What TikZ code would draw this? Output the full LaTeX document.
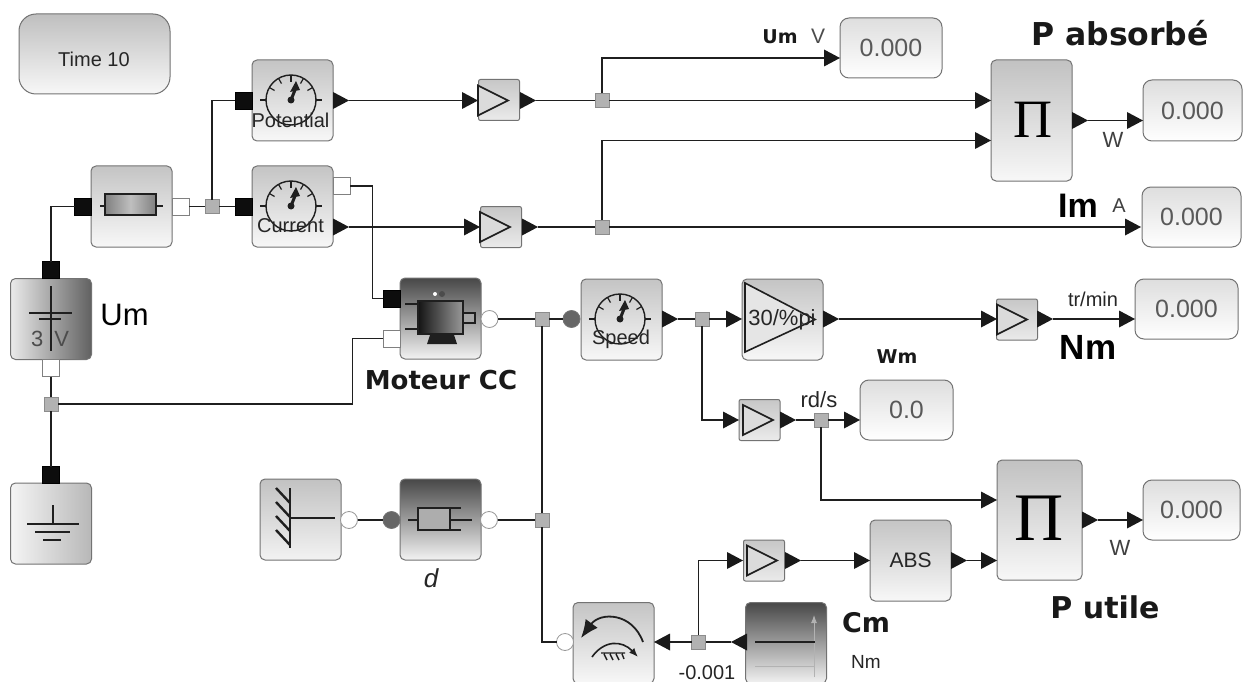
\documentclass[tikz,border=0pt]{standalone}
\usepackage{fontspec}
\setmainfont{Liberation Sans}
\newfontfamily\djb[BoldFont={DejaVu Sans Bold}]{DejaVu Sans}
\newfontfamily\piserif{Liberation Serif}
\usetikzlibrary{shapes.geometric,arrows.meta}
\newcommand{\fs}[1]{\fontsize{#1}{#1}\selectfont}
\tikzset{
  blk/.style={draw=black!55,line width=1pt,rounded corners=5pt,inner sep=0pt,outer sep=0pt,top color=black!23,bottom color=black!3},
  bx/.style 2 args={minimum width=#1,minimum height=#2},
  sq/.style={blk,minimum size=81},
  gain/.style={blk,minimum size=41,top color=black!22,bottom color=black!8,rounded corners=2pt},
  dark/.style={top color=black!72,bottom color=black!5},
  disp/.style={blk,rounded corners=9pt,top color=black!13,bottom color=white,text=black!65,font=\fs{25}},
  bp/.style={draw=black,fill=black!95,minimum size=17,inner sep=0pt,outer sep=0pt},
  wp/.style={draw=black!50,fill=white,minimum size=17,inner sep=0pt,outer sep=0pt,line width=.8pt},
  junc/.style={draw=black!45,fill=black!30,minimum size=14,inner sep=0pt,outer sep=0pt,line width=.8pt},
  co/.style={circle,draw=black!40,fill=white,minimum size=17,inner sep=0pt,outer sep=0pt,line width=.8pt},
  cf/.style={circle,draw=black!55,fill=black!60,minimum size=17,inner sep=0pt,outer sep=0pt,line width=.8pt},
  tribase/.style={isosceles triangle,isosceles triangle stretches,fill=black!90,inner sep=0pt,outer sep=0pt,minimum width=17,minimum height=16},
  tin/.style={tribase,anchor=apex},
  tout/.style={tribase,anchor=lower side},
  tl/.style={tribase,shape border rotate=180,anchor=apex},
  wire/.style={draw=black!88,line width=1.7pt},
  ic/.style={draw=black!88,line width=1.6pt},
  lab/.style={inner sep=0pt,outer sep=0pt,text=black!85},
  blab/.style={lab,font=\djb\bfseries,text=black!90},
}
\newcommand{\gaugeicon}[2]{%
  \begin{scope}[shift={(#1,#2)}]
    \draw[ic,line width=1.4pt] (0,0) circle (25);
    \draw[ic,line width=1.2pt] (-31,0)--(-25,0) (25,0)--(31,0) (0,-25)--(0,-18);
    \foreach \a in {-150,-120,-60,-30}{\draw[ic,line width=1.2pt] (\a:25)--(\a:19);}
    \draw[black!88,line width=3pt] (0,0)--(4,-10);
    \fill[black!88] (5,-19)--(9,-10)--(-1,-8)--cycle;
    \fill[black!88] (0,0) circle (3.5);
  \end{scope}}
\newcommand{\gainicon}[2]{%
  \draw[ic,fill=black!14,line join=miter] (#1-16,#2-15)--(#1+14,#2)--(#1-16,#2+15)--cycle;}
\begin{document}
\begin{tikzpicture}[x=1pt,y=-1pt]
\useasboundingbox[fill=white] (0,0) rectangle (1245,682);

% ---------- blocks ----------
\node[blk,bx={151}{80},rounded corners=17pt,top color=black!25,bottom color=black!3] (time) at (94.5,54) {};
\node[lab,font=\fs{20}] (ttime) at (94,59) {Time 10};
\node[sq] (res) at (131.5,206.5) {};
\node[sq] (pot) at (292.5,100.5) {};
\node[sq] (cur) at (292.5,206.5) {};
\node[sq,left color=black!8,right color=black!62] (bat) at (51,319) {};
\node[sq,left color=black!4,right color=black!28] (gnd) at (51,523.5) {};
\node[sq,top color=black!24,bottom color=black!5] (fix) at (300.5,519.5) {};
\node[sq,dark] (dam) at (440.5,519.5) {};
\node[sq,dark] (mot) at (440.5,318.5) {};
\node[sq] (spd) at (621.5,319.5) {};
\node[sq] (gbig) at (782.5,319.5) {};
\node[gain] (gu) at (499,100) {};
\node[gain] (gi) at (501,227) {};
\node[gain] (gn) at (1017,319.5) {};
\node[gain] (gw) at (759.5,420) {};
\node[gain] (gc) at (764,560.5) {};
\node[sq,font=\fs{21},text=black!85] (abs) at (910.5,560.5) {ABS};
\node[blk,bx={81}{121},top color=black!24] (pa) at (1031.5,120.5) {};
\node[blk,bx={85}{120},top color=black!24] (pu) at (1039.5,520) {};
\node[sq,dark] (stp) at (786,643) {};
\node[sq] (trq) at (613.5,643) {};
\node[disp,bx={102}{60}] (du) at (891,48) {0.000};
\node[disp,bx={99}{61}] (dp) at (1192.5,110.5) {0.000};
\node[disp,bx={99}{60}] (di) at (1191.5,217) {0.000};
\node[disp,bx={103}{60}] (dn) at (1186.5,309) {0.000};
\node[disp,bx={93}{60}] (dw) at (906.5,410) {0.0};
\node[disp,bx={97}{60}] (dk) at (1191.5,510) {0.000};

% ---------- ports ----------
\node[bp] (resi) at (83,206.5) {};
\node[wp] (reso) at (180.5,206.5) {};
\node[bp] (poti) at (243.5,100.5) {};
\node[tout] (poto) at (333,100.5) {};
\node[bp] (curi) at (243.5,206.5) {};
\node[wp] (curw) at (341.5,186) {};
\node[tout] (curo) at (333,227) {};
\node[bp] (batt) at (51,270) {};
\node[wp] (batb) at (51,368) {};
\node[bp] (gndi) at (51,475) {};
\node[bp] (moti) at (391.5,298.5) {};
\node[wp] (motj) at (391.5,338.5) {};
\node[co] (moto) at (489.5,319) {};
\node[cf] (spdi) at (571.5,319) {};
\node[tout] (spdo) at (662,319) {};
\node[tin] (gbigi) at (742,319) {};
\node[tout] (gbigo) at (823,319) {};
\node[tin] (gni) at (997,319) {};
\node[tout] (gno) at (1037,319) {};
\node[tin] (dni) at (1135,319) {};
\node[tin] (gui) at (478,100.5) {};
\node[tout] (guo) at (520,100.5) {};
\node[tin] (pai) at (991,100.5) {};
\node[tin] (paj) at (991,140.5) {};
\node[tout] (pao) at (1072,120.5) {};
\node[tin] (dpi) at (1143,120.5) {};
\node[tin] (dui) at (840,58) {};
\node[tin] (gii) at (480,227) {};
\node[tout] (gio) at (522,227) {};
\node[tin] (dii) at (1141,227) {};
\node[tin] (gwi) at (739,420) {};
\node[tout] (gwo) at (780,420) {};
\node[tin] (dwi) at (860,420) {};
\node[tin] (pui) at (997,500) {};
\node[tin] (puj) at (997,560.5) {};
\node[tout] (puo) at (1082,520) {};
\node[tin] (dki) at (1143,520) {};
\node[co] (fixo) at (349,520) {};
\node[cf] (dami) at (391.5,520) {};
\node[co] (damo) at (489,520) {};
\node[co] (trqo) at (565,642) {};
\node[tl] (trqi) at (654,642) {};
\node[tl] (stpo) at (731,642) {};
\node[tin] (gci) at (743,560.5) {};
\node[tout] (gco) at (785,560.5) {};
\node[tin] (absi) at (870,560.5) {};
\node[tout] (abso) at (951,560.5) {};

% ---------- junctions and bends ----------
\node[junc] (j1) at (212,206.5) {};
\node[junc] (j2) at (51,404) {};
\node[junc] (j3) at (602,100.5) {};
\node[junc] (j4) at (602,227) {};
\node[junc] (j5) at (542,319) {};
\node[junc] (j6) at (542,520) {};
\node[junc] (j7) at (702,319) {};
\node[junc] (j8) at (821,420) {};
\node[junc] (j9) at (698.5,642) {};
\coordinate (c1) at (352.5,404);
\coordinate (c2) at (372.5,186);

% ---------- connectors ----------
\draw[wire] (resi) -| (batt);
\draw[wire] (reso) -- (j1);
\draw[wire] (j1) -- (curi);
\draw[wire] (j1) |- (poti);
\draw[wire] (batb) -- (j2);
\draw[wire] (j2) -- (gndi);
\draw[wire] (j2) -- (c1) |- (motj);
\draw[wire] (curw) -- (c2) |- (moti);
\draw[wire] (poto) -- (gui);
\draw[wire] (guo) -- (j3);
\draw[wire] (j3) -- (pai);
\draw[wire] (j3) |- (dui);
\draw[wire] (curo) -- (gii);
\draw[wire] (gio) -- (j4);
\draw[wire] (j4) -- (dii);
\draw[wire] (j4) |- (paj);
\draw[wire] (pao) -- (dpi);
\draw[wire] (moto) -- (j5);
\draw[wire] (j5) -- (spdi);
\draw[wire] (j5) -- (j6);
\draw[wire] (j6) |- (trqo);
\draw[wire] (damo) -- (j6);
\draw[wire] (fixo) -- (dami);
\draw[wire] (spdo) -- (j7);
\draw[wire] (j7) -- (gbigi);
\draw[wire] (j7) |- (gwi);
\draw[wire] (gbigo) -- (gni);
\draw[wire] (gno) -- (dni);
\draw[wire] (gwo) -- (j8);
\draw[wire] (j8) -- (dwi);
\draw[wire] (j8) |- (pui);
\draw[wire] (stpo) -- (j9);
\draw[wire] (j9) -- (trqi);
\draw[wire] (j9) |- (gci);
\draw[wire] (gco) -- (absi);
\draw[wire] (abso) -- (puj);
\draw[wire] (puo) -- (dki);

% ---------- icons ----------
\gaugeicon{291}{100}
\gaugeicon{291}{206}
\gaugeicon{620}{319}
\gainicon{494}{100.5}
\gainicon{496}{227}
\gainicon{1013}{319.5}
\gainicon{759}{420}
\gainicon{763}{560.5}
\draw[ic,fill=black!10,line join=miter] (745,283)--(815,319.5)--(745,352)--cycle;
% resistor
\draw[ic] (100,206)--(105,206) (156,206)--(163,206);
\draw[ic,left color=black!50,right color=black!50,middle color=black!25] (105,194) rectangle (156,215);
% battery
\draw[ic,line width=2pt] (51,286)--(51,351) (29,313)--(72,313) (39,318.5)--(61,318.5);
% ground
\draw[ic,line width=2pt] (53,505)--(53,524) (27,524)--(79,524) (35,532)--(70,532) (43,540)--(61,540);
% fixed
\draw[ic,line width=2.4pt] (290,488)--(290,548) (290,518)--(335,518);
\foreach \d in {0,14,28,42}{\draw[ic,line width=2.4pt] (276,488+\d)--(290,503+\d);}
% damper
\draw[ic] (408,520)--(418,520) (450,520)--(472,520) (450,508)--(461,508) (450,530)--(461,530);
\draw[ic,fill=black!32] (418,508) rectangle (450,530);
% motor
\fill[black!88] (427,344)--(457,344)--(452,329)--(432,329)--cycle;
\draw[ic,line width=1.4pt] (405,304)--(418,304) (405,329)--(418,329);
\draw[ic,line width=1.4pt,left color=black!92,right color=black!40] (418,301) rectangle (463,334);
\draw[ic,line width=1.4pt,fill=black!35] (463,313) rectangle (475,323);
\fill[black!70] (442,294) circle (3);
\fill[white] (435,294) circle (2);
% torque
\draw[ic,line width=1.8pt,-{Latex[length=18pt,width=15pt]}] (643,642) .. controls (632,612) and (600,612) .. (581,638);
\draw[ic,-{Latex[length=9pt,width=7pt]}] (592,657) .. controls (604,640) and (622,640) .. (638,657);
\draw[ic,line width=1.4pt] (601,653)--(625,653) (604,654)--(607,660) (610,654)--(613,660) (616,654)--(619,660) (622,654)--(624,659);
% step
\draw[draw=black!30,line width=1pt,-{Latex[length=8pt,width=6pt]}] (814,677)--(814,615);
\draw[draw=black!30,line width=1pt] (755,666)--(815,666);
\draw[ic,line width=1.8pt] (755,642)--(815,642);

% ---------- labels ----------
\node[lab,font=\fs{20}] (tpot) at (290.5,120) {Potential};
\node[lab,font=\fs{20}] (tcur) at (290.5,226) {Current};
\node[lab,font=\fs{20}] (tspd) at (621,339) {Speed};
\node[lab,font=\fs{22}] (tgbig) at (782,319.5) {30/\%pi};
\node[lab,font=\fs{22},text=black!70] (tbat) at (50,339) {3\hspace{.5em}V};
\node[lab,font=\fs{31},text=black] (tum) at (124.5,315) {Um};
\node[blab,font=\djb\bfseries\fs{26}] (tmot) at (441,380) {Moteur CC};
\node[lab,font=\itshape\fs{26}] (td) at (431,578) {d};
\node[blab,font=\djb\bfseries\fs{19}] (tus) at (780,36.5) {Um};
\node[lab,font=\fs{21},text=black!70] (tv) at (818,36.5) {V};
\node[blab,font=\djb\bfseries\fs{31.5}] (tpa) at (1120,33) {P absorbé};
\node[lab,font=\fs{22},text=black!75] (tw1) at (1113,140) {W};
\node[lab,font=\bfseries\fs{34},text=black] (tim) at (1078,206) {Im};
\node[lab,font=\fs{20},text=black!75] (ta) at (1119,206) {A};
\node[lab,font=\fs{20}] (ttr) at (1093,299) {tr/min};
\node[lab,font=\bfseries\fs{35},text=black] (tnm) at (1088,347) {Nm};
\node[blab,font=\djb\bfseries\fs{19}] (twm) at (897,357) {Wm};
\node[lab,font=\fs{22}] (trd) at (819,400) {rd/s};
\node[lab,font=\fs{22},text=black!75] (tw2) at (1120,548) {W};
\node[blab,font=\djb\bfseries\fs{30}] (tpu) at (1105,607) {P utile};
\node[blab,font=\djb\bfseries\fs{27}] (tcm) at (866,623) {Cm};
\node[lab,font=\fs{19}] (tnm2) at (866,662) {Nm};
\node[lab,font=\fs{20}] (tcv) at (707,673) {-0.001};
\node[lab,font=\piserif\fs{54},text=black] (pi1) at (1033,120) {Π};
\node[lab,font=\piserif\fs{68},text=black] (pi2) at (1039,518) {Π};
\end{tikzpicture}
\end{document}
